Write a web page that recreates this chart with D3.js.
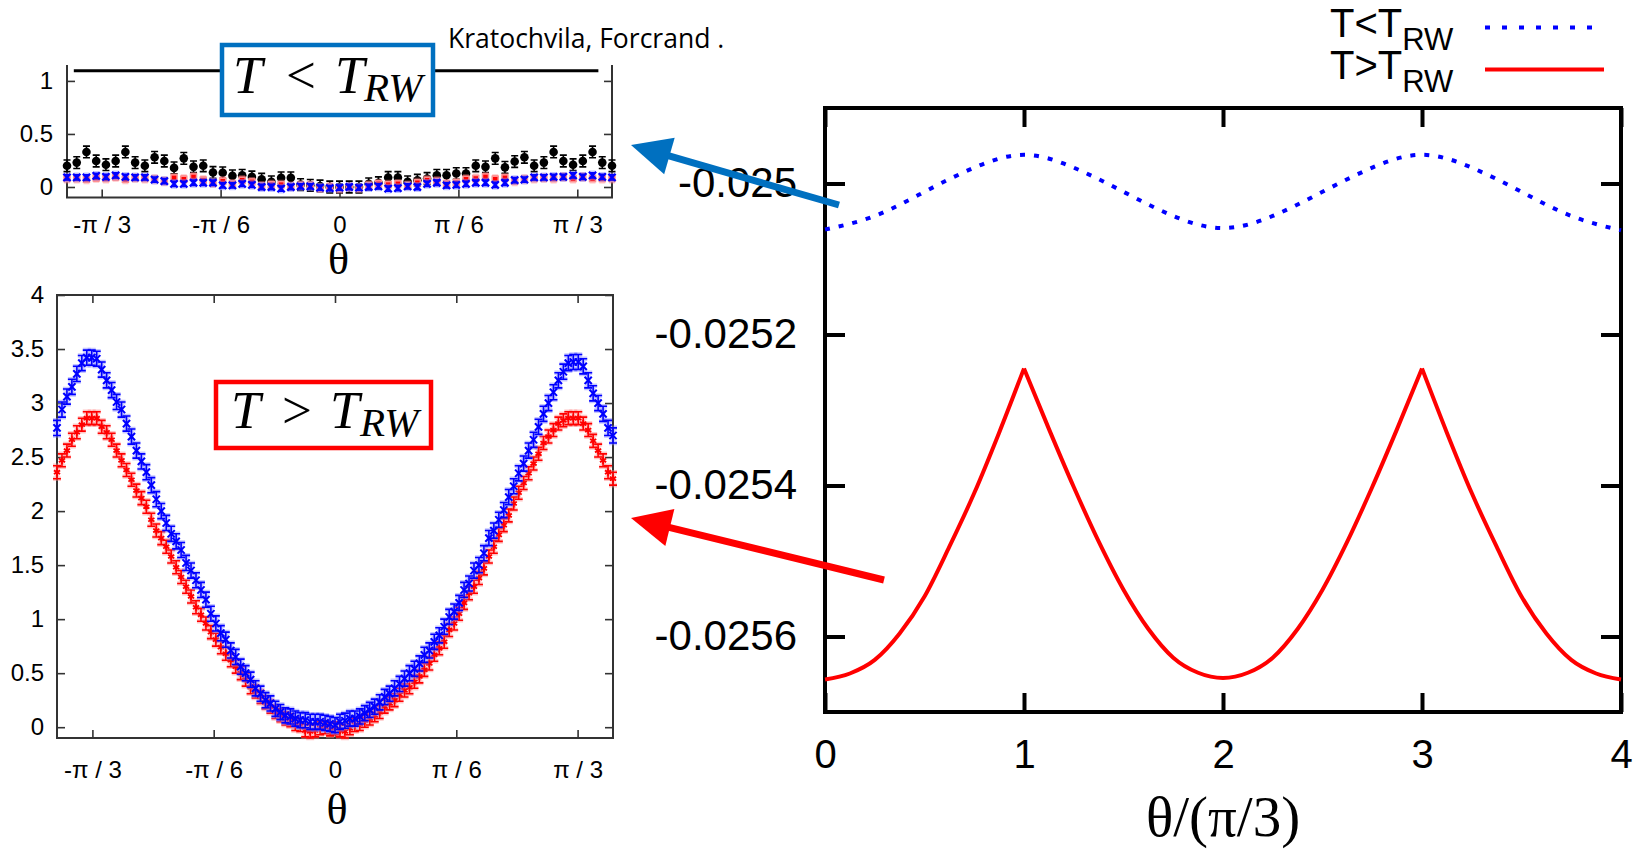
<!DOCTYPE html>
<html>
<head>
<meta charset="utf-8">
<script src="https://cdn.jsdelivr.net/npm/d3@7"></script>
<style>
  body { margin: 0; background: #fff; }
  svg { display: block; }
</style>
</head>
<body>
<svg id="fig" width="1651" height="849"></svg>
<script>
// ---------- data ----------
const thetaTicks = [-Math.PI / 3, -Math.PI / 6, 0, Math.PI / 6, Math.PI / 3];
const thetaTickLabels = ['-\u03c0 / 3', '-\u03c0 / 6', '0', '\u03c0 / 6', '\u03c0 / 3'];

// upper left panel (T < T_RW): 57 angles between -1.2 and 1.2
const coarseTheta = d3.range(-28, 29).map(k => k * 1.2 / 28);
const topBlack = [0.20, 0.23, 0.33, 0.245, 0.21, 0.245, 0.33, 0.23, 0.20,
  0.28, 0.245, 0.18, 0.27, 0.19, 0.20,
  0.137, 0.134, 0.105, 0.11, 0.095, 0.073, 0.048, 0.086, 0.086, 0.022, 0.016, 0.01, 0.0,
  0.0,
  0.0, 0.0, 0.03, 0.04,
  0.09, 0.09, 0.048, 0.064, 0.08, 0.11, 0.11, 0.127, 0.127,
  0.20, 0.19, 0.27, 0.185, 0.24, 0.28,
  0.20, 0.23, 0.33, 0.245, 0.21, 0.245, 0.33, 0.23, 0.20];
const topRed = [0.08, 0.08, 0.073, 0.086, 0.08, 0.095, 0.073, 0.086, 0.08, 0.073,
  0.054, 0.086, 0.073, 0.095, 0.064, 0.04, 0.054, 0.03, 0.064, 0.048,
  0.01, 0.022, 0.022, 0.006, 0.016, 0.016, -0.01, 0, -0.016,
  0, -0.01, 0.016, 0.03, 0.022, 0.03, 0.016, 0.04, 0.064, 0.054,
  0.03, 0.04, 0.073, 0.08, 0.095, 0.073, 0.086, 0.054, 0.073, 0.08,
  0.086, 0.08, 0.095, 0.08, 0.095, 0.08, 0.08, 0.08];
const topBlue = [0.09, 0.09, 0.09, 0.105, 0.095, 0.11, 0.095, 0.09, 0.09, 0.07,
  0.055, 0.03, 0.03, 0.04, 0.04, 0.04, 0.016, 0.016, 0.03, 0.02,
  0, 0, -0.016, 0, 0.006, 0.006, -0.006, -0.01, -0.006,
  0, -0.006, 0, 0.006, -0.016, -0.01, 0.006, 0, 0.03, 0.04,
  0.016, 0.02, 0.03, 0.04, 0.04, 0.02, 0.04, 0.064, 0.07, 0.09,
  0.09, 0.095, 0.095, 0.11, 0.095, 0.11, 0.095, 0.09];
const topBlackErr = 0.055, topColorErr = 0.025;
const topLineLevel = 1.095, topLineSpan = [-1.17, 1.14];
const tlYTicks = [0, 0.5, 1];
const tlYLabels = ['0', '0.5', '1'];

// lower left panel (T > T_RW): 113 angles between -1.2 and 1.2
const fineTheta = d3.range(-56, 57).map(k => k * 1.2 / 56);
const fineBlue = [2.77, 2.94, 3.06, 3.15, 3.27, 3.37, 3.42, 3.42, 3.41, 3.31,
  3.21, 3.12, 3.01, 2.94, 2.81, 2.69, 2.56, 2.46, 2.36, 2.24,
  2.11, 2.0, 1.89, 1.79, 1.72, 1.64, 1.52, 1.45, 1.36, 1.27,
  1.18, 1.05, 0.96, 0.87, 0.81, 0.71, 0.65, 0.56, 0.50, 0.44,
  0.36, 0.31, 0.25, 0.22, 0.17, 0.14, 0.11, 0.10, 0.08, 0.065,
  0.065, 0.05, 0.05, 0.05, 0.04, 0.03,
  0.02,
  0.05, 0.06, 0.08, 0.08, 0.10, 0.13, 0.16, 0.19, 0.23, 0.28,
  0.31, 0.36, 0.40, 0.45, 0.50, 0.54, 0.59, 0.67, 0.71, 0.79,
  0.85, 0.93, 1.02, 1.07, 1.15, 1.27, 1.33, 1.45, 1.50, 1.61,
  1.75, 1.82, 1.92, 2.01, 2.13, 2.23, 2.35, 2.44, 2.56, 2.66,
  2.78, 2.90, 3.00, 3.10, 3.21, 3.29, 3.37, 3.38, 3.38, 3.34,
  3.21, 3.09, 3.00, 2.90, 2.77, 2.70];
const fineRed = [2.36, 2.47, 2.56, 2.66, 2.73, 2.80, 2.86, 2.86, 2.86, 2.78,
  2.73, 2.66, 2.56, 2.47, 2.38, 2.29, 2.19, 2.12, 2.04, 1.92,
  1.82, 1.75, 1.67, 1.58, 1.48, 1.39, 1.30, 1.21, 1.11, 1.04,
  0.96, 0.88, 0.81, 0.74, 0.68, 0.62, 0.56, 0.50, 0.44, 0.37,
  0.33, 0.28, 0.23, 0.19, 0.14, 0.11, 0.08, 0.065, 0.03, 0.02,
  -0.03, -0.04, -0.03, -0.01, 0.0, -0.02,
  -0.01,
  -0.03, -0.04, -0.01, 0.02, 0.03, 0.06, 0.08, 0.11, 0.14, 0.19,
  0.22, 0.25, 0.30, 0.34, 0.37, 0.42, 0.47, 0.53, 0.59, 0.67,
  0.73, 0.79, 0.90, 0.96, 1.05, 1.15, 1.24, 1.30, 1.38, 1.47,
  1.58, 1.67, 1.78, 1.87, 1.96, 2.07, 2.17, 2.26, 2.35, 2.44,
  2.53, 2.63, 2.69, 2.75, 2.81, 2.84, 2.86, 2.86, 2.86, 2.81,
  2.75, 2.65, 2.56, 2.47, 2.36, 2.30];
const fineBlueErr = 0.07, fineRedErr = 0.06;
const blYTicks = [0, 0.5, 1, 1.5, 2, 2.5, 3, 3.5, 4];
const blYLabels = ['0', '0.5', '1', '1.5', '2', '2.5', '3', '3.5', '4'];

// right panel: free energy vs theta/(pi/3)
const blueX = d3.range(0, 4.001, 0.25);
const blueY = [-0.025061, -0.025043, -0.025011, -0.024979, -0.024962, -0.024979, -0.025011, -0.025043, -0.025059,
  -0.025043, -0.025011, -0.024979, -0.024962, -0.024979, -0.025011, -0.025043, -0.025062];
const redX = d3.range(0, 4.001, 0.125);
const redY = [-0.025657, -0.025649, -0.025631, -0.025596, -0.025547, -0.025481, -0.025410, -0.025330, -0.025245,
  -0.025325, -0.025402, -0.025474, -0.025538, -0.025590, -0.025628, -0.025648, -0.025655,
  -0.025648, -0.025628, -0.025590, -0.025538, -0.025474, -0.025402, -0.025325, -0.025245,
  -0.025330, -0.025410, -0.025481, -0.025547, -0.025596, -0.025631, -0.025649, -0.025657];
const redCusps = [0, 8, 24, 32];   // indices where the red pieces meet (cusps at 1 and 3)
const rightXTicks = [0, 1, 2, 3, 4];
const rightYTicks = [-0.025, -0.0252, -0.0254, -0.0256];
const rightYLabels = ['-0.025', '-0.0252', '-0.0254', '-0.0256'];

// ---------- drawing ----------
const svg = d3.select('#fig');
const SANS = '"Liberation Sans", Arial, sans-serif';
const SERIF = '"Liberation Serif", "Times New Roman", serif';

function styleAxis(g, fs, strokeW, color) {
  g.attr('font-family', SANS).attr('font-size', fs);
  g.select('.domain').remove();
  g.selectAll('.tick line').attr('stroke', color).attr('stroke-width', strokeW);
  g.selectAll('.tick text').attr('fill', '#000');
}

function errorBars(g, pts, x, y, err, color, capHalf, width, halo) {
  const d = p => {
    const px = x(p.t), ya = y(p.v - err), yb = y(p.v + err);
    return `M${px - capHalf},${ya}H${px + capHalf}M${px},${ya}V${yb}M${px - capHalf},${yb}H${px + capHalf}`;
  };
  if (halo) {
    g.append('g').selectAll('path').data(pts).join('path')
      .attr('d', d).attr('fill', 'none').attr('stroke', halo)
      .attr('stroke-width', width + 3).attr('opacity', 0.45);
  }
  g.append('g').selectAll('path').data(pts).join('path')
    .attr('d', d).attr('fill', 'none').attr('stroke', color).attr('stroke-width', width);
}

// ===== upper left panel =====
const tl = { x0: 67, x1: 612, y0: 65, y1: 197.6 };
const xTL = d3.scaleLinear().domain([-1.2, 1.2]).range([tl.x0, tl.x1]);
const yTL = d3.scaleLinear().domain([-0.1, 1.15]).range([tl.y1, tl.y0]);
const gTL = svg.append('g');

gTL.append('path')
  .attr('d', `M${tl.x0},${tl.y0}V${tl.y1}H${tl.x1}V${tl.y0}`)
  .attr('fill', 'none').attr('stroke', '#333').attr('stroke-width', 2);

gTL.append('g').attr('transform', `translate(0,${tl.y1})`)
  .call(d3.axisBottom(xTL).tickValues(thetaTicks).tickFormat((d, i) => thetaTickLabels[i]).tickSize(-8).tickPadding(18))
  .call(g => styleAxis(g, 24, 1.6, '#333'));
gTL.append('g').attr('transform', `translate(${tl.x0},0)`)
  .call(d3.axisLeft(yTL).tickValues(tlYTicks).tickFormat((d, i) => tlYLabels[i]).tickSize(-8).tickPadding(14))
  .call(g => styleAxis(g, 24, 1.6, '#333'));
gTL.append('g').attr('transform', `translate(${tl.x1},0)`)
  .call(d3.axisRight(yTL).tickValues(tlYTicks).tickFormat('').tickSize(-8))
  .call(g => styleAxis(g, 24, 1.6, '#333'));

gTL.append('line')
  .attr('x1', xTL(topLineSpan[0])).attr('x2', xTL(topLineSpan[1]))
  .attr('y1', yTL(topLineLevel)).attr('y2', yTL(topLineLevel))
  .attr('stroke', '#000').attr('stroke-width', 3);

const blackPts = coarseTheta.map((t, i) => ({ t, v: topBlack[i] }));
const redPts = coarseTheta.map((t, i) => ({ t, v: topRed[i] }));
const bluePts = coarseTheta.map((t, i) => ({ t, v: topBlue[i] }));

errorBars(gTL, blackPts, xTL, yTL, topBlackErr, '#000', 3.5, 1.6, null);
gTL.append('g').selectAll('circle').data(blackPts).join('circle')
  .attr('cx', p => xTL(p.t)).attr('cy', p => yTL(p.v)).attr('r', 4.3).attr('fill', '#000');

errorBars(gTL, redPts, xTL, yTL, topColorErr, '#ff0000', 3, 1.5, '#ff8080');
gTL.append('g').selectAll('rect').data(redPts).join('rect')
  .attr('x', p => xTL(p.t) - 3).attr('y', p => yTL(p.v) - 3)
  .attr('width', 6).attr('height', 6).attr('fill', '#ff0000')
  .attr('stroke', '#ff9090').attr('stroke-width', 1.5);

errorBars(gTL, bluePts, xTL, yTL, topColorErr, '#0000ff', 3, 1.5, '#8080ff');
gTL.append('g').selectAll('path').data(bluePts).join('path')
  .attr('transform', p => `translate(${xTL(p.t)},${yTL(p.v)})`)
  .attr('d', d3.symbol(d3.symbolTimes, 36))
  .attr('fill', 'none').attr('stroke', '#0000ff').attr('stroke-width', 2.2);

gTL.append('text').attr('x', (tl.x0 + tl.x1) / 2 - 1).attr('y', 274)
  .attr('text-anchor', 'middle').attr('font-family', SERIF).attr('font-size', 44).text('\u03b8');

// box "T < T_RW"
const boxTL = gTL.append('g');
boxTL.append('rect').attr('x', 222).attr('y', 45).attr('width', 211).attr('height', 70)
  .attr('fill', '#fff').attr('stroke', '#0070c0').attr('stroke-width', 4.5);
boxTL.append('text').attr('x', 233).attr('y', 93).attr('font-family', SERIF).attr('font-style', 'italic').attr('font-size', 53).text('T');
boxTL.append('text').attr('x', 286).attr('y', 93).attr('font-family', SERIF).attr('font-size', 53).text('<');
boxTL.append('text').attr('x', 335).attr('y', 93).attr('font-family', SERIF).attr('font-style', 'italic').attr('font-size', 53).text('T');
boxTL.append('text').attr('x', 364).attr('y', 101).attr('font-family', SERIF).attr('font-style', 'italic').attr('font-size', 41).text('RW');

svg.append('text').attr('x', 448).attr('y', 48)
  .attr('font-family', '"Open Sans", sans-serif').attr('font-size', 26.5).text('Kratochvila, Forcrand .');

// ===== lower left panel =====
const bl = { x0: 57, x1: 613, y0: 295, y1: 738 };
const xBL = d3.scaleLinear().domain([-1.2, 1.2]).range([bl.x0, bl.x1]);
const yBL = d3.scaleLinear().domain([-0.1, 4]).range([bl.y1, bl.y0]);
const gBL = svg.append('g');

gBL.append('rect').attr('x', bl.x0).attr('y', bl.y0)
  .attr('width', bl.x1 - bl.x0).attr('height', bl.y1 - bl.y0)
  .attr('fill', 'none').attr('stroke', '#333').attr('stroke-width', 2);

gBL.append('g').attr('transform', `translate(0,${bl.y1})`)
  .call(d3.axisBottom(xBL).tickValues(thetaTicks).tickFormat((d, i) => thetaTickLabels[i]).tickSize(-8).tickPadding(23))
  .call(g => styleAxis(g, 24, 1.6, '#333'));
gBL.append('g').attr('transform', `translate(0,${bl.y0})`)
  .call(d3.axisTop(xBL).tickValues(thetaTicks).tickFormat('').tickSize(-8))
  .call(g => styleAxis(g, 24, 1.6, '#333'));
gBL.append('g').attr('transform', `translate(${bl.x0},0)`)
  .call(d3.axisLeft(yBL).tickValues(blYTicks).tickFormat((d, i) => blYLabels[i]).tickSize(-8).tickPadding(13))
  .call(g => styleAxis(g, 24, 1.6, '#333'));
gBL.append('g').attr('transform', `translate(${bl.x1},0)`)
  .call(d3.axisRight(yBL).tickValues(blYTicks).tickFormat('').tickSize(-8))
  .call(g => styleAxis(g, 24, 1.6, '#333'));

const fineRedPts = fineTheta.map((t, i) => ({ t, v: fineRed[i] }));
const fineBluePts = fineTheta.map((t, i) => ({ t, v: fineBlue[i] }));

errorBars(gBL, fineRedPts, xBL, yBL, fineRedErr, '#ff0000', 4, 1.6, '#ff8080');
gBL.append('g').selectAll('path').data(fineRedPts).join('path')
  .attr('transform', p => `translate(${xBL(p.t)},${yBL(p.v)})`)
  .attr('d', d3.symbol(d3.symbolAsterisk, 36))
  .attr('fill', 'none').attr('stroke', '#ff0000').attr('stroke-width', 1.8);

errorBars(gBL, fineBluePts, xBL, yBL, fineBlueErr, '#0000ff', 4, 1.6, '#8080ff');
gBL.append('g').selectAll('path').data(fineBluePts).join('path')
  .attr('transform', p => `translate(${xBL(p.t)},${yBL(p.v)})`)
  .attr('d', d3.symbol(d3.symbolTimes, 36))
  .attr('fill', 'none').attr('stroke', '#0000ff').attr('stroke-width', 2);

gBL.append('text').attr('x', (bl.x0 + bl.x1) / 2 + 2).attr('y', 824)
  .attr('text-anchor', 'middle').attr('font-family', SERIF).attr('font-size', 44).text('\u03b8');

// box "T > T_RW"
const boxBL = gBL.append('g');
boxBL.append('rect').attr('x', 216).attr('y', 382).attr('width', 215).attr('height', 66)
  .attr('fill', '#fff').attr('stroke', '#ff0000').attr('stroke-width', 4.5);
boxBL.append('text').attr('x', 231).attr('y', 428).attr('font-family', SERIF).attr('font-style', 'italic').attr('font-size', 53).text('T');
boxBL.append('text').attr('x', 282).attr('y', 428).attr('font-family', SERIF).attr('font-size', 53).text('>');
boxBL.append('text').attr('x', 330).attr('y', 428).attr('font-family', SERIF).attr('font-style', 'italic').attr('font-size', 53).text('T');
boxBL.append('text').attr('x', 360).attr('y', 436).attr('font-family', SERIF).attr('font-style', 'italic').attr('font-size', 41).text('RW');

// ===== right panel =====
const rp = { x0: 825, x1: 1621, y0: 108, y1: 712 };
const xR = d3.scaleLinear().domain([0, 4]).range([rp.x0, rp.x1]);
const yR = d3.scaleLinear().domain([-0.0257, -0.0249]).range([rp.y1, rp.y0]);
const gR = svg.append('g');

gR.append('g').attr('transform', `translate(0,${rp.y1})`)
  .call(d3.axisBottom(xR).tickValues(rightXTicks).tickFormat(d3.format('d')).tickSize(-19).tickPadding(28))
  .call(g => styleAxis(g, 40, 4, '#000'));
gR.append('g').attr('transform', `translate(0,${rp.y0})`)
  .call(d3.axisTop(xR).tickValues(rightXTicks).tickFormat('').tickSize(-19))
  .call(g => styleAxis(g, 40, 4, '#000'));
gR.append('g').attr('transform', `translate(${rp.x0},0)`)
  .call(d3.axisLeft(yR).tickValues(rightYTicks).tickFormat((d, i) => rightYLabels[i]).tickSize(-20).tickPadding(28))
  .call(g => styleAxis(g, 42, 4, '#000'));
gR.append('g').attr('transform', `translate(${rp.x1},0)`)
  .call(d3.axisRight(yR).tickValues(rightYTicks).tickFormat('').tickSize(-20))
  .call(g => styleAxis(g, 42, 4, '#000'));

gR.append('rect').attr('x', rp.x0).attr('y', rp.y0)
  .attr('width', rp.x1 - rp.x0).attr('height', rp.y1 - rp.y0)
  .attr('fill', 'none').attr('stroke', '#000').attr('stroke-width', 4);

const blueLine = d3.line().x(d => xR(d[0])).y(d => yR(d[1])).curve(d3.curveNatural);
gR.append('path').datum(blueX.map((x, i) => [x, blueY[i]]))
  .attr('d', blueLine).attr('fill', 'none').attr('stroke', '#0000ff')
  .attr('stroke-width', 4).attr('stroke-dasharray', '5,9');

// red pieces are smooth, they meet in cusps at 1 and 3
const redLine = d3.line().x(d => xR(d[0])).y(d => yR(d[1])).curve(d3.curveMonotoneX);
const redPtsR = redX.map((x, i) => [x, redY[i]]);
const redBranches = d3.pairs(redCusps).map(([a, b]) => redPtsR.slice(a, b + 1));
gR.append('path')
  .attr('d', redBranches.map(b => redLine(b)).join(''))
  .attr('fill', 'none').attr('stroke', '#ff0000').attr('stroke-width', 4).attr('stroke-linejoin', 'miter');

gR.append('text').attr('x', xR(2)).attr('y', 836)
  .attr('text-anchor', 'middle').attr('font-family', SERIF).attr('font-size', 57).text('\u03b8/(\u03c0/3)');

// legend
const legend = svg.append('g').attr('font-family', SANS);
const legendItems = [
  { rel: 'T<T', y: 37, color: '#0000ff', dash: '5,12', x2: 1597 },
  { rel: 'T>T', y: 79, color: '#ff0000', dash: null, x2: 1604 }
];
legendItems.forEach(item => {
  const t = legend.append('text').attr('x', 1330).attr('y', item.y).attr('font-size', 40);
  t.append('tspan').text(item.rel);
  t.append('tspan').attr('font-size', 31).attr('dy', 13).text('RW');
  legend.append('line').attr('x1', 1485).attr('x2', item.x2)
    .attr('y1', item.y - 9.5).attr('y2', item.y - 9.5)
    .attr('stroke', item.color).attr('stroke-width', 4)
    .attr('stroke-dasharray', item.dash);
});

// arrows
function arrow(from, to, color) {
  const dx = to[0] - from[0], dy = to[1] - from[1];
  const len = Math.hypot(dx, dy), ux = dx / len, uy = dy / len;
  const headLen = 40, headHalf = 19;
  const bx = to[0] - ux * headLen, by = to[1] - uy * headLen;
  svg.append('line').attr('x1', from[0]).attr('y1', from[1])
    .attr('x2', bx + ux * 4).attr('y2', by + uy * 4)
    .attr('stroke', color).attr('stroke-width', 7);
  svg.append('path')
    .attr('d', `M${to[0]},${to[1]}L${bx - uy * headHalf},${by + ux * headHalf}L${bx + uy * headHalf},${by - ux * headHalf}Z`)
    .attr('fill', color);
}
arrow([839, 205], [631, 145], '#0070c0');
arrow([884, 580], [631, 518], '#ff0000');
</script>
</body>
</html>
